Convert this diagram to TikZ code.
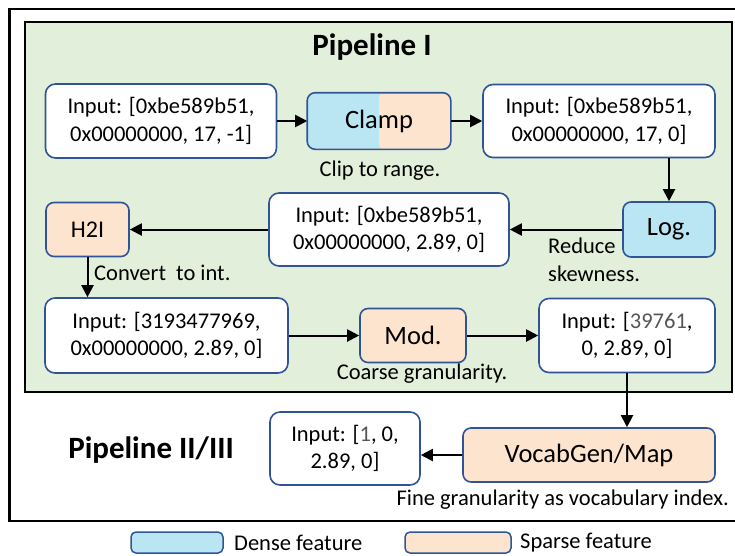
\documentclass[tikz,border=0pt]{standalone}
\usepackage{fontspec}
\setmainfont{Carlito}
\usetikzlibrary{arrows.meta}
\definecolor{densefill}{HTML}{BAE6F4}
\definecolor{sparsefill}{HTML}{FCE4CF}
\definecolor{stagegreen}{HTML}{E2EFDA}
\definecolor{boxedge}{HTML}{2F5597}
\definecolor{dimtext}{HTML}{555555}
\tikzset{
  txt/.style={font=\fontsize{22.5}{27.5}\selectfont},
  databox/.style={txt, draw=boxedge, line width=1.6pt, fill=white, rounded corners=10pt,
    align=center, inner sep=0pt},
  opbox/.style={draw=boxedge, line width=1.6pt, rounded corners=8pt, inner sep=0pt,
    font=\fontsize{26.5}{30}\selectfont},
  dense/.style={opbox, fill=densefill},
  sparse/.style={opbox, fill=sparsefill},
  flow/.style={line width=2pt, -{Triangle[length=12pt,width=12pt]}},
  caption/.style={txt, inner sep=0pt},
  title/.style={font=\fontsize{31}{34}\selectfont\bfseries, inner sep=0pt},
  keybox/.style={draw=boxedge, line width=1.5pt, rounded corners=5pt, minimum width=92pt,
    minimum height=21pt, inner sep=0pt},
}
\begin{document}
\begin{tikzpicture}[x=1pt,y=-1pt]
\useasboundingbox (0,0) rectangle (735,555);
\clip (0,0) rectangle (735,555);

% frames
\draw[line width=2.2pt] (9.5,9) rectangle (760,521);
\draw[line width=2.2pt, fill=stagegreen] (25,22) rectangle (732,392);

\node[title] (t1) at (372,47) {Pipeline I};
\node[title] (t2) at (151,450) {Pipeline II/III};

% row 1
\node[databox, minimum width=231pt, minimum height=74pt] (A) at (161,121)
  {Input: [0xbe589b51,\\0x00000000, 17, -1]};
% Clamp: half dense, half sparse
\node[opbox, draw=none, fill=densefill, minimum width=142pt, minimum height=55pt] (clamp) at (379,121) {};
\begin{scope}
  \clip[rounded corners=8pt] (clamp.south west) rectangle (clamp.north east);
  \fill[sparsefill, rounded corners=8pt] (379,90) rectangle (460,152);
\end{scope}
\draw[boxedge, line width=1.6pt, rounded corners=8pt] (clamp.south west) rectangle (clamp.north east);
\node[font=\fontsize{26.5}{30}\selectfont, inner sep=0pt] (clampt) at (clamp) {Clamp};
\node[databox, minimum width=232pt, minimum height=73pt] (B) at (599,121)
  {Input: [0xbe589b51,\\0x00000000, 17, 0]};
\node[caption] (c1) at (380,171) {Clip to range.};

% row 2
\node[dense, minimum width=92pt, minimum height=55pt] (log) at (669,229.5) {Log.};
\node[databox, minimum width=240pt, minimum height=73pt] (C) at (389,229.5)
  {Input: [0xbe589b51,\\0x00000000, 2.89, 0]};
\node[sparse, minimum width=83pt, minimum height=54pt, font=\fontsize{24}{28}\selectfont] (h2i) at (87.5,229.5) {H2I};
\node[caption, anchor=west, align=left] (c2) at (548,260) {Reduce\\skewness.};
\node[caption, anchor=west] (c3) at (94,273) {Convert\ \ to int.};

% row 3
\node[databox, minimum width=243pt, minimum height=75pt] (D) at (166.5,335.5)
  {Input: [3193477969,\\0x00000000, 2.89, 0]};
\node[sparse, minimum width=106pt, minimum height=54pt] (mod) at (413,335.5) {Mod.};
\node[databox, minimum width=176pt, minimum height=74pt] (E) at (627,335.5)
  {Input: [\textcolor{dimtext}{39761},\\0, 2.89, 0]};
\node[caption] (c4) at (422,374) {Coarse granularity.};

% pipeline II/III
\node[sparse, minimum width=252pt, minimum height=54pt] (vocab) at (589,455) {VocabGen/Map};
\node[databox, minimum width=150pt, minimum height=73pt] (F) at (345,448.5)
  {Input: [\textcolor{dimtext}{1}, 0,\\2.89, 0]};
\node[caption, anchor=east] (c5) at (729,500) {Fine granularity as vocabulary index.};

% connectors
\draw[flow] (A) -- (clamp);
\draw[flow] (clamp) -- (B);
\draw[flow] (B.south -| log.north) -- (log.north);
\draw[flow] (log) -- (C);
\draw[flow] (C) -- (h2i);
\draw[flow] (h2i.south) -- (h2i.south |- D.north);
\draw[flow] (D) -- (mod);
\draw[flow] (mod) -- (E);
\draw[flow] (E.south) -- (E.south |- vocab.north);
\draw[flow] (vocab.west) -- (vocab.west -| F.east);

% key
\node[keybox, fill=densefill] (kd) at (177,542.5) {};
\node[caption, anchor=west] (kdt) at (234,543) {Dense feature};
\node[keybox, fill=sparsefill, minimum width=106pt] (ks) at (458,542.5) {};
\node[caption, anchor=west] (kst) at (520,543) {Sparse feature};
\end{tikzpicture}
\end{document}
